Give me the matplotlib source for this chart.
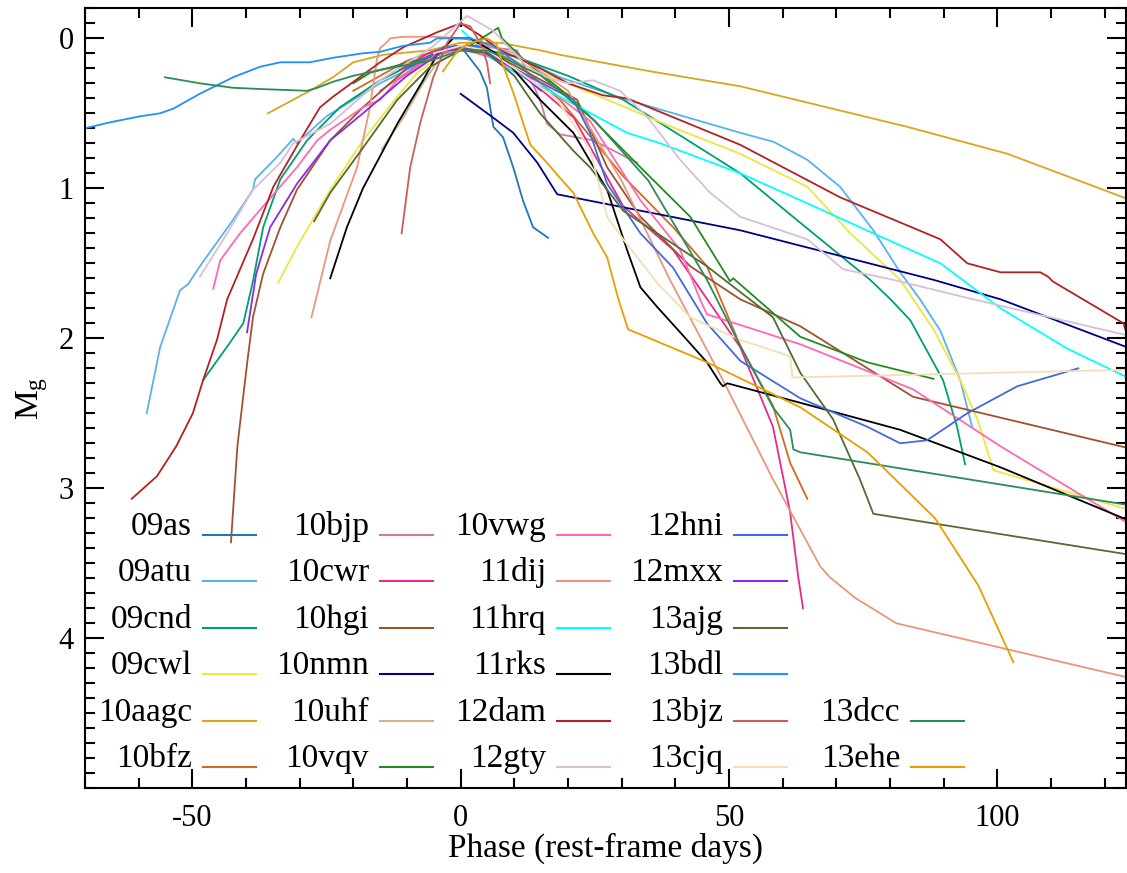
import matplotlib
matplotlib.use('Agg')
import matplotlib.pyplot as plt
from matplotlib.ticker import FixedLocator, MultipleLocator

plt.rcParams['font.family'] = 'Liberation Serif'
plt.rcParams['mathtext.fontset'] = 'custom'
plt.rcParams['mathtext.rm'] = 'Liberation Serif'
plt.rcParams['mathtext.it'] = 'Liberation Serif:italic'
plt.rcParams['axes.unicode_minus'] = False

# g-band light curves (phase in rest-frame days, absolute mag relative to peak)
ph_09as = [-5, -1, 0.8, 3.6, 4.9, 6.1, 7.9, 9.8, 11.6, 13.5, 16.3]
mg_09as = [0.12, 0.05, 0.09, 0.22, 0.33, 0.59, 0.66, 0.86, 1.08, 1.26, 1.33]

ph_09atu = [-58.5, -56.0, -52.3, -50.8, -48.6, -42.4, -38.7, -38.3, -34.2, -31.2, -30.5, -25, -15, -5, 0, 5,
            10.5, 18.5, 31.0, 52.1, 58.3, 64.6, 70.7, 76.9, 81.9, 85.6, 89.4, 93.1, 95.3]
mg_09atu = [2.50, 2.06, 1.68, 1.64, 1.52, 1.21, 1.01, 0.94, 0.79, 0.67, 0.70, 0.52, 0.30, 0.12, 0.07, 0.08,
            0.12, 0.26, 0.41, 0.63, 0.69, 0.81, 0.99, 1.28, 1.56, 1.74, 1.95, 2.28, 2.59]

ph_09cnd = [-48.0, -43.0, -40.5, -38.7, -36.8, -33.6, -28.6, -22.5, -15.0, -5, 0, 5, 10, 20, 30.3, 41,
            52.1, 63.3, 76.3, 80.1, 83.8, 89.9, 92.5, 94.0]
mg_09cnd = [2.28, 2.03, 1.90, 1.62, 1.26, 0.94, 0.68, 0.46, 0.28, 0.10, 0.05, 0.08, 0.12, 0.25, 0.41, 0.65,
            0.90, 1.23, 1.61, 1.74, 1.88, 2.28, 2.59, 2.84]

ph_09cwl = [-34.0, -30.5, -24.3, -18.2, -11.8, -8.1, -3, 0, 5, 10, 20, 30, 40, 52.1, 64.6, 72.6, 81.9,
            88.1, 93.1, 96.3, 99.3, 124.2]
mg_09cwl = [1.63, 1.39, 1.01, 0.68, 0.39, 0.23, 0.10, 0.07, 0.08, 0.15, 0.30, 0.45, 0.60, 0.77, 0.99, 1.30, 1.61,
            1.94, 2.28, 2.54, 2.88, 3.14]

ph_10aagc = [-35.9, -28.1, -23.8, -20.0, -14.4, -5.7, -0.1, 7.4, 14.8, 18.5, 35.3, 52.1, 83.2, 101.9, 124.2]
mg_10aagc = [0.50, 0.35, 0.26, 0.16, 0.11, 0.08, 0.03, 0.03, 0.08, 0.11, 0.22, 0.32, 0.59, 0.77, 1.07]

ph_10bfz = [-20, -10, -3, 3, 10, 18.5, 30.3, 39.6, 45.9, 52.1, 58.2, 61.4, 64.6]
mg_10bfz = [0.35, 0.15, 0.06, 0.05, 0.15, 0.41, 0.92, 1.26, 1.52, 2.05, 2.45, 2.83, 3.07]

ph_10bjp = [-15, -8, -2, 3, 10.5, 14.8, 16.1, 18.5, 24.7, 32.9]
mg_10bjp = [0.35, 0.18, 0.07, 0.05, 0.08, 0.41, 0.57, 0.64, 0.68, 0.83]

ph_10cwr = [-11.3, -6, -1, 5, 12, 21.1, 30.3, 39.6, 52.1, 58.2, 61.4, 62.9, 63.8]
mg_10cwr = [0.21, 0.10, 0.05, 0.10, 0.25, 0.53, 1.12, 1.41, 2.06, 2.59, 3.16, 3.59, 3.80]

ph_10hgi = [-42.8, -41.6, -39.8, -38.7, -36.8, -33.6, -30.5, -24.3, -18.2, -10, -3, 3, 10, 21.7, 27.3, 33.5,
            42.8, 52.1, 63.3, 84.3, 124.2]
mg_10hgi = [3.36, 2.72, 2.17, 1.86, 1.57, 1.26, 1.01, 0.68, 0.46, 0.20, 0.08, 0.06, 0.18, 0.41, 0.86, 1.19,
            1.52, 1.74, 1.92, 2.39, 2.73]

ph_10nmn = [0.0, 6.1, 9.8, 14.3, 18.0, 52.1, 88.1, 100.6, 124.2]
mg_10nmn = [0.37, 0.53, 0.63, 0.83, 1.04, 1.28, 1.61, 1.74, 2.06]

ph_10uhf = [-14.7, -10.7, -7.0, -4.4, 0, 5, 10]
mg_10uhf = [0.74, 0.53, 0.30, 0.16, 0.08, 0.10, 0.20]

ph_10vqv = [-20, -16.9, -4.3, 1.7, 7.0, 7.7, 12, 21.0, 33.5, 42.8, 47.8, 50.2, 50.8, 63.3, 75.8, 88.1]
mg_10vqv = [0.30, 0.23, 0.11, 0.05, -0.07, 0.00, 0.15, 0.41, 0.86, 1.19, 1.48, 1.62, 1.60, 1.99, 2.16, 2.27]

ph_10vwg = [-46.1, -44.8, -41.1, -36.8, -30.5, -26.7, -24.3, -18.2, -15.0, -11.8, -5, 0, 5, 15, 24.1, 33.5,
            40.9, 44.6, 45.9, 63.3, 84.3, 100.6, 124.2]
mg_10vwg = [1.67, 1.48, 1.30, 1.12, 0.86, 0.68, 0.61, 0.46, 0.41, 0.28, 0.12, 0.07, 0.12, 0.30, 0.55, 1.08,
            1.41, 1.74, 1.84, 2.04, 2.34, 2.72, 3.23]

ph_11dij = [-27.8, -24.3, -19.3, -16.9, -15.6, -15.0, -13.7, -13.1, -10.7, -4.4, 0.5, 10, 20, 30, 39.0, 48.9,
            58.2, 67.0, 68.7, 73.5, 81.2, 124.2]
mg_11dij = [1.86, 1.35, 0.86, 0.46, 0.14, 0.065, 0.025, 0.0, -0.01, -0.01, 0.0, 0.10, 0.35, 0.95, 1.61, 2.28,
            2.94, 3.52, 3.59, 3.73, 3.90, 4.26]

ph_11hrq = [0.3, 4.9, 9.2, 18.5, 31.0, 37.2, 52.1, 64.6, 76.9, 89.4, 100.6, 113.1, 124.2]
mg_11hrq = [-0.05, 0.11, 0.21, 0.39, 0.63, 0.70, 0.90, 1.10, 1.30, 1.50, 1.80, 2.07, 2.26]

ph_11rks = [-24.3, -21.2, -18.2, -11.8, -7.0, -4.4, -1.4, 1.8, 6.1, 9.2, 14.8, 21.0, 27.3, 31.0, 33.5, 36.6,
            40.9, 45.9, 48.4, 48.9, 49.7, 63.3, 81.9, 100.6, 124.2]
mg_11rks = [1.60, 1.26, 1.00, 0.57, 0.28, 0.11, 0.00, 0.00, 0.09, 0.18, 0.41, 0.63, 1.01, 1.41, 1.66, 1.79,
            1.96, 2.16, 2.30, 2.32, 2.30, 2.43, 2.61, 2.86, 3.21]

ph_12dam = [-61.3, -56.6, -53.0, -49.9, -48.0, -45.4, -43.5, -38.7, -34.9, -29.9, -26.2, -23.8, -15.0, -10.7,
            -4.4, 0, 3.6, 7.4, 14.8, 20.0, 26.5, 31.0, 52.1, 70.7, 89.4, 94.4, 100.6, 108.0, 109.5, 110.3,
            123.5, 124.2]
mg_12dam = [3.07, 2.92, 2.72, 2.50, 2.28, 2.01, 1.74, 1.34, 0.99, 0.68, 0.46, 0.39, 0.16, 0.06,
            -0.04, -0.10, -0.02, 0.08, 0.20, 0.30, 0.38, 0.40, 0.71, 1.06, 1.34, 1.50, 1.56, 1.56, 1.59, 1.62,
            1.90, 1.98]

ph_12gty = [-48.6, -43.5, -38.7, -33.6, -31.2, -24.3, -15.0, -5, 1.2, 6.1, 12.4, 16.1, 19.9, 24.7, 29.7,
            34.7, 40.9, 46.5, 52.1, 64.6, 71.3, 80.6, 95.5, 124.2]
mg_12gty = [1.59, 1.30, 1.01, 0.83, 0.70, 0.57, 0.28, 0.05, -0.15, -0.05, 0.19, 0.26, 0.30, 0.28, 0.35,
            0.52, 0.81, 1.03, 1.19, 1.34, 1.54, 1.61, 1.74, 1.98]

ph_12hni = [-10, -3, 3, 10, 21.0, 24.1, 27.3, 33.5, 39.6, 45.9, 52.1, 63.3, 75.8, 81.9, 86.9, 94.4, 103.7, 115.1]
mg_12hni = [0.20, 0.06, 0.05, 0.20, 0.41, 0.63, 0.97, 1.30, 1.53, 1.90, 2.15, 2.40, 2.59, 2.70, 2.68, 2.50, 2.32, 2.20]

ph_12mxx = [-39.8, -38.1, -35.5, -30.5, -24.3, -18.2, -10, -3, 3, 10, 15]
mg_12mxx = [1.96, 1.57, 1.26, 0.97, 0.68, 0.50, 0.25, 0.08, 0.07, 0.20, 0.35]

ph_13ajg = [-27.3, -24.3, -18.2, -11.8, -5.7, 0, 5, 10, 14.8, 21.0, 24.1, 30.3, 36.6, 45.9, 58.2, 63.3, 69.4,
            74.4, 76.9, 124.2]
mg_13ajg = [1.22, 1.03, 0.73, 0.41, 0.19, 0.08, 0.10, 0.25, 0.50, 0.75, 0.86, 1.15, 1.30, 1.52, 1.86, 2.23, 2.54,
            2.94, 3.17, 3.44]

ph_13bdl = [-70.0, -65.3, -59.7, -56.0, -53.6, -48.6, -42.4, -37.4, -33.6, -28.1, -23.8, -18.2, -15.0, -10.7,
            -5.7, -4.4, 1.8, 6, 12]
mg_13bdl = [0.60, 0.56, 0.52, 0.50, 0.47, 0.37, 0.26, 0.19, 0.16, 0.16, 0.13, 0.10, 0.09, 0.05,
            0.03, 0.0, 0.0, 0.05, 0.20]

ph_13bjz = [-11.0, -9.4, -7.5, -5.1, -2.5, 0, 1.8, 3.6, 4.9, 5.5]
mg_13bjz = [1.30, 0.86, 0.56, 0.26, 0.03, -0.10, -0.08, 0.03, 0.16, 0.30]

ph_13cjq = [-5, 0, 5, 10, 18, 24.1, 27.3, 30.3, 36.6, 42.8, 52.1, 61.4, 61.8, 63.3, 124.2]
mg_13cjq = [0.10, 0.05, 0.08, 0.20, 0.41, 0.74, 1.19, 1.34, 1.63, 1.86, 2.01, 2.12, 2.26, 2.26, 2.21]

ph_13dcc = [-55.1, -48.6, -42.4, -36.0, -28.6, -26.7, -23.8, -20.0, -15.0, -5.7, 0, 5, 15, 25, 35, 45.9,
            52.1, 58.2, 61.4, 62.0, 63.3, 124.2]
mg_13dcc = [0.26, 0.30, 0.33, 0.34, 0.35, 0.33, 0.29, 0.25, 0.21, 0.15, 0.08, 0.08, 0.25, 0.55, 0.95, 1.61,
            2.05, 2.46, 2.61, 2.74, 2.76, 3.11]

ph_13ehe = [-3.3, -0.7, 1.2, 4.9, 6.7, 7.9, 9.8, 11.6, 13.0, 16.1, 18.5, 21.0, 24.7, 27.3, 29.4, 31.2, 45.9,
            63.3, 75.8, 83.0, 88.4, 96.5, 103.0]
mg_13ehe = [0.22, 0.09, 0.04, 0.0, 0.04, 0.18, 0.36, 0.56, 0.71, 0.83, 0.93, 1.03, 1.30, 1.46, 1.74, 1.94, 2.16,
            2.46, 2.76, 3.01, 3.20, 3.65, 4.16]

names = ['09as', '09atu', '09cnd', '09cwl', '10aagc', '10bfz', '10bjp', '10cwr', '10hgi', '10nmn',
         '10uhf', '10vqv', '10vwg', '11dij', '11hrq', '11rks', '12dam', '12gty', '12hni', '12mxx',
         '13ajg', '13bdl', '13bjz', '13cjq', '13dcc', '13ehe']
phases = [ph_09as, ph_09atu, ph_09cnd, ph_09cwl, ph_10aagc, ph_10bfz, ph_10bjp, ph_10cwr, ph_10hgi, ph_10nmn,
          ph_10uhf, ph_10vqv, ph_10vwg, ph_11dij, ph_11hrq, ph_11rks, ph_12dam, ph_12gty, ph_12hni, ph_12mxx,
          ph_13ajg, ph_13bdl, ph_13bjz, ph_13cjq, ph_13dcc, ph_13ehe]
mags = [mg_09as, mg_09atu, mg_09cnd, mg_09cwl, mg_10aagc, mg_10bfz, mg_10bjp, mg_10cwr, mg_10hgi, mg_10nmn,
        mg_10uhf, mg_10vqv, mg_10vwg, mg_11dij, mg_11hrq, mg_11rks, mg_12dam, mg_12gty, mg_12hni, mg_12mxx,
        mg_13ajg, mg_13bdl, mg_13bjz, mg_13cjq, mg_13dcc, mg_13ehe]
colors = ['#1f77b4', '#56b4e9', '#009e73', '#f0e442', '#daa520', '#d2691e', '#cc79a7', '#e7298a', '#a0522d',
          '#000080', '#d2b48c', '#228b22', '#ff69b4', '#e9967a', '#00ffff', '#000000', '#b22222', '#d8bfd8',
          '#4169e1', '#8a2be2', '#556b2f', '#1e90ff', '#cd5c5c', '#f5deb3', '#2e8b57', '#e69f00']

fig = plt.figure(figsize=(11.27, 8.73), dpi=100)
ax = fig.add_axes([0.0754, 0.097, 0.9238, 0.8935])

for ph, mg, c in zip(phases, mags, colors):
    ax.plot(ph, mg, color=c, lw=1.3)

ax.set_xlim(-70, 124)
ax.set_ylim(5.0, -0.2)
ax.xaxis.set_major_locator(FixedLocator([-50, 0, 50, 100]))
ax.xaxis.set_minor_locator(MultipleLocator(10))
ax.yaxis.set_major_locator(FixedLocator([0, 1, 2, 3, 4]))
ax.yaxis.set_minor_locator(MultipleLocator(0.1))
ax.tick_params(which='both', direction='in', top=True, right=True, width=1.5, labelsize=22, color='black')
ax.tick_params(which='major', length=14)
ax.tick_params(which='minor', length=7)
ax.tick_params(axis='x', pad=11)
ax.tick_params(axis='y', pad=8)
for s in ax.spines.values():
    s.set_linewidth(1.5)

ax.set_xlabel('Phase (rest-frame days)', fontsize=24, labelpad=0)
ax.set_ylabel(r'$\mathrm{M_g}$', fontsize=24, labelpad=6)

# hand made legend: name right aligned, short line to its right
for i, (name, c) in enumerate(zip(names, colors)):
    if i < 24:
        col, row = i // 6, i % 6
    else:
        col, row = 4, i - 24 + 4
    x0 = 0.1135 + col * 0.170
    y0 = 0.325 - row * 0.0596
    ax.plot([x0, x0 + 0.051], [y0, y0], color=c, lw=1.5, transform=ax.transAxes)
    ax.text(x0 - 0.0106, y0, name, ha='right', va='baseline', fontsize=24, transform=ax.transAxes)

fig.savefig('out.png', dpi=100)
